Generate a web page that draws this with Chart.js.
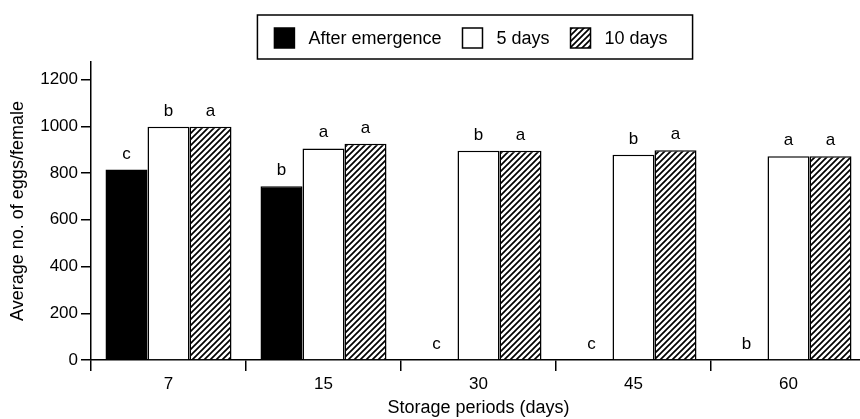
<!DOCTYPE html>
<html>
<head>
<meta charset="utf-8">
<script src="https://cdn.jsdelivr.net/npm/chart.js@4"></script>
<style>
  html, body { margin: 0; padding: 0; background: #fff; overflow: hidden; }
</style>
</head>
<body>
<canvas id="chart" width="870" height="419"></canvas>
<script>
// storage periods and average eggs per female
const periods = ['7', '15', '30', '45', '60'];
const afterEmergence = [815, 743, 0, 0, 0];
const fiveDays = [998, 905, 895, 878, 872];
const tenDays = [998, 925, 895, 897, 872];
const yTicks = [0, 200, 400, 600, 800, 1000, 1200];

// significance letters above each bar
const lettersAfter = ['c', 'b', 'c', 'c', 'b'];
const lettersFive = ['b', 'a', 'b', 'b', 'a'];
const lettersTen = ['a', 'a', 'a', 'a', 'a'];

const FONT = '"Liberation Sans", Arial, Helvetica, sans-serif';

// diagonal hatch for the 10 days bars
function makeHatch() {
  const c = document.createElement('canvas');
  c.width = 6; c.height = 6;
  const g = c.getContext('2d');
  g.fillStyle = '#fff';
  g.fillRect(0, 0, 6, 6);
  g.strokeStyle = '#000';
  g.lineWidth = 1.7;
  g.beginPath();
  g.moveTo(-1, 7); g.lineTo(7, -1);
  g.moveTo(-4, 4); g.lineTo(4, -4);
  g.moveTo(2, 10); g.lineTo(10, 2);
  g.stroke();
  return g.createPattern(c, 'repeat');
}
const hatch = makeHatch();

// letters over the bars
const letterPlugin = {
  id: 'letters',
  afterDatasetsDraw(chart) {
    const ctx = chart.ctx;
    ctx.save();
    ctx.fillStyle = '#000';
    ctx.font = '17px ' + FONT;
    ctx.textAlign = 'center';
    ctx.textBaseline = 'alphabetic';
    chart.data.datasets.forEach((ds, i) => {
      chart.getDatasetMeta(i).data.forEach((bar, j) => {
        ctx.fillText(ds.letters[j], bar.x, bar.y - 11);
      });
    });
    ctx.restore();
  }
};

// boxed legend above the plot
const boxLegend = {
  id: 'boxLegend',
  afterDraw(chart) {
    const ctx = chart.ctx;
    const items = chart.data.datasets;
    const box = 20, gap = 14, sep = 21;
    ctx.save();
    ctx.font = '18px ' + FONT;
    const widths = items.map(d => ctx.measureText(d.label).width);
    const total = widths.reduce((s, w) => s + box + gap + w, 0) + sep * (items.length - 1);
    let x = 471 - total / 2;
    const y = 28;
    ctx.lineWidth = 1.5;
    ctx.strokeStyle = '#000';
    ctx.strokeRect(x - 17, 15, total + 42, 44);
    ctx.textBaseline = 'middle';
    items.forEach((d, i) => {
      ctx.fillStyle = d.backgroundColor;
      ctx.fillRect(x, y, box, box);
      ctx.strokeRect(x, y, box, box);
      ctx.fillStyle = '#000';
      ctx.fillText(d.label, x + box + gap, y + box / 2 + 1);
      x += box + gap + widths[i] + sep;
    });
    ctx.restore();
  }
};

const barStyle = {
  borderColor: '#000',
  borderWidth: 1.5,
  categoryPercentage: 0.813,
  barPercentage: 1.0
};

new Chart(document.getElementById('chart'), {
  type: 'bar',
  data: {
    labels: periods,
    datasets: [
      { label: 'After emergence', data: afterEmergence, backgroundColor: '#000', letters: lettersAfter, ...barStyle },
      { label: '5 days', data: fiveDays, backgroundColor: '#fff', letters: lettersFive, ...barStyle },
      { label: '10 days', data: tenDays, backgroundColor: hatch, letters: lettersTen, ...barStyle }
    ]
  },
  options: {
    responsive: false,
    animation: false,
    layout: { padding: { top: 62, left: 0, right: 4, bottom: 0 } },
    plugins: {
      legend: { display: false },
      tooltip: { enabled: false }
    },
    scales: {
      x: {
        offset: true,
        grid: { display: true, drawOnChartArea: false, drawTicks: true, tickLength: 11, color: '#000', lineWidth: 1.5, offset: true },
        border: { color: '#000', width: 1.5 },
        ticks: { color: '#000', font: { family: FONT, size: 17 }, padding: 3 },
        title: { display: true, text: 'Storage periods (days)', color: '#000', font: { family: FONT, size: 18 }, padding: { top: 2, bottom: 0 } },
        afterFit(s) { s.height = 59; }
      },
      y: {
        min: 0,
        max: 1275,
        ticks: { color: '#000', font: { family: FONT, size: 17 }, padding: 3, callback: v => String(v) },
        afterBuildTicks(s) { s.ticks = yTicks.map(v => ({ value: v })); },
        grid: { display: true, drawOnChartArea: false, drawTicks: true, tickLength: 10, color: '#000', lineWidth: 1.5 },
        border: { color: '#000', width: 1.5 },
        title: { display: true, text: 'Average no. of eggs/female', color: '#000', font: { family: FONT, size: 18 }, padding: { top: 7, bottom: 0 } },
        afterFit(s) { s.width = 91; }
      }
    }
  },
  plugins: [letterPlugin, boxLegend]
});
</script>
</body>
</html>
